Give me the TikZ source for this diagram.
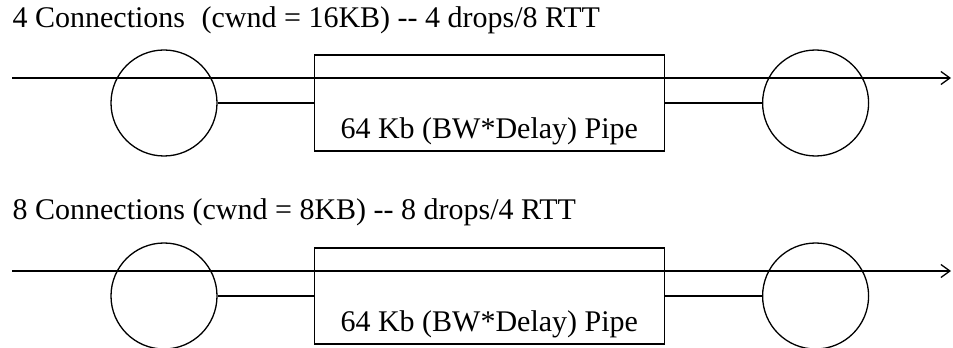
\documentclass[tikz,border=0pt]{standalone}
\usepackage{fontspec}
\setmainfont{Liberation Serif}
\usetikzlibrary{positioning,arrows.meta}

\begin{document}
\begin{tikzpicture}[
    x=1pt, y=1pt,
    line width=1.3pt,
    node font=\fontsize{30}{35}\selectfont,
    hop/.style={draw, circle, minimum size=106pt, inner sep=0pt},
    pipe/.style={draw, minimum width=350pt, minimum height=96pt, inner sep=0pt},
    txt/.style={inner sep=0pt},
    arr/.style={-{Straight Barb[length=9pt, width=13pt]}},
]
\useasboundingbox (0,0) rectangle (953,348);

% 4 connections
\node[txt, anchor=base west] (titleA) at (12,320) {4 Connections\hspace{0.3em} (cwnd = 16KB) -{}- 4 drops/8 RTT};
\node[hop] (srcA) at (164,245) {};
\node[pipe, right=96pt of srcA] (pipeA) {};
\node[hop, right=97pt of pipeA] (dstA) {};
\node[txt, above=6pt of pipeA.south] (lblA) {64 Kb (BW*Delay) Pipe};
\coordinate (inA) at (12,270);
\coordinate (outA) at (951,270);

\draw[arr] (inA) -- (outA);
\draw (srcA) -- (pipeA);
\draw (pipeA) -- (dstA);

% 8 connections
\node[txt, anchor=base west] (titleB) at (12,128) {8 Connections (cwnd = 8KB) -{}- 8 drops/4 RTT};
\node[hop] (srcB) at (164,52) {};
\node[pipe, right=96pt of srcB] (pipeB) {};
\node[hop, right=97pt of pipeB] (dstB) {};
\node[txt, above=6pt of pipeB.south] (lblB) {64 Kb (BW*Delay) Pipe};
\coordinate (inB) at (12,77);
\coordinate (outB) at (951,77);

\draw[arr] (inB) -- (outB);
\draw (srcB) -- (pipeB);
\draw (pipeB) -- (dstB);
\end{tikzpicture}
\end{document}
